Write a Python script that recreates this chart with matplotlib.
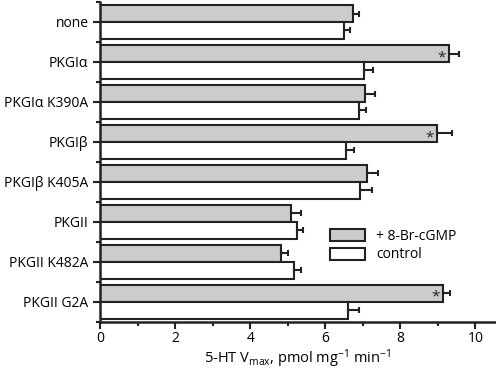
import numpy as np
import matplotlib
matplotlib.use("Agg")
import matplotlib.pyplot as plt

plt.rcParams['font.family'] = ['Open Sans', 'DejaVu Sans']
plt.rcParams['mathtext.default'] = 'regular'

labels = ["none", "PKGI\u03b1", "PKGI\u03b1 K390A", "PKGI\u03b2", "PKGI\u03b2 K405A",
          "PKGII", "PKGII K482A", "PKGII G2A"]
cgmp = [6.74, 9.30, 7.05, 8.98, 7.10, 5.08, 4.82, 9.14]
cgmp_err = [0.16, 0.27, 0.28, 0.39, 0.30, 0.27, 0.19, 0.18]
ctrl = [6.50, 7.02, 6.89, 6.56, 6.92, 5.23, 5.15, 6.59]
ctrl_err = [0.16, 0.24, 0.20, 0.19, 0.33, 0.16, 0.19, 0.30]
signif = [False, True, False, True, False, False, False, True]

fig = plt.figure(figsize=(4.96, 3.70), dpi=100)
ax = fig.add_axes([100.3/496, 1-321.7/370, (495-100.3)/496, (321.7-2)/370])

y = np.arange(len(labels))
h = 0.42
ekw = dict(ecolor='#222222', elinewidth=1.5, capsize=2.3, capthick=1.5)
ax.barh(y - h/2, cgmp, height=h, xerr=[np.zeros(len(cgmp)), cgmp_err],
        color='#cccccc', edgecolor='#222222', linewidth=1.5,
        error_kw=ekw, label='+ 8-Br-cGMP')
ax.barh(y + h/2, ctrl, height=h, xerr=[np.zeros(len(ctrl)), ctrl_err],
        color='white', edgecolor='#222222', linewidth=1.5,
        error_kw=ekw, label='control')

for i, s in enumerate(signif):
    if s:
        ax.text(cgmp[i] - 0.1, y[i] - h/2 + 0.1, '*', ha='right', va='center',
                fontsize=11, color='#222222')

ax.set_ylim(len(labels) - 0.5, -0.5)
ax.set_xlim(0, 10.52)
ax.set_yticks(y)
ax.set_yticklabels(labels, fontsize=10)
ax.set_yticks(np.arange(len(labels) + 1) - 0.5, minor=True)
ax.set_xticks(np.arange(0, 11, 2))
ax.set_xticks(np.arange(1, 11, 2), minor=True)
ax.tick_params(axis='x', labelsize=10, pad=2)
ax.tick_params(which='major', length=5, width=1.5, color='#222222')
ax.tick_params(which='minor', length=3, width=1.5, color='#222222')
for sp in ['top', 'right']:
    ax.spines[sp].set_visible(False)
for sp in ['left', 'bottom']:
    ax.spines[sp].set_linewidth(1.8)
    ax.spines[sp].set_color('#222222')

ax.set_xlabel(r"5-HT V$_{max}$, pmol mg$^{-1}$ min$^{-1}$", fontsize=10.5, labelpad=0.5)

ax.legend(loc='upper left', bbox_to_anchor=(0.582, 0.29), frameon=False,
          fontsize=10, handlelength=2.5, handleheight=0.95, labelspacing=0.25,
          handletextpad=0.8, borderaxespad=0, borderpad=0)

fig.savefig("out.png", dpi=100)
